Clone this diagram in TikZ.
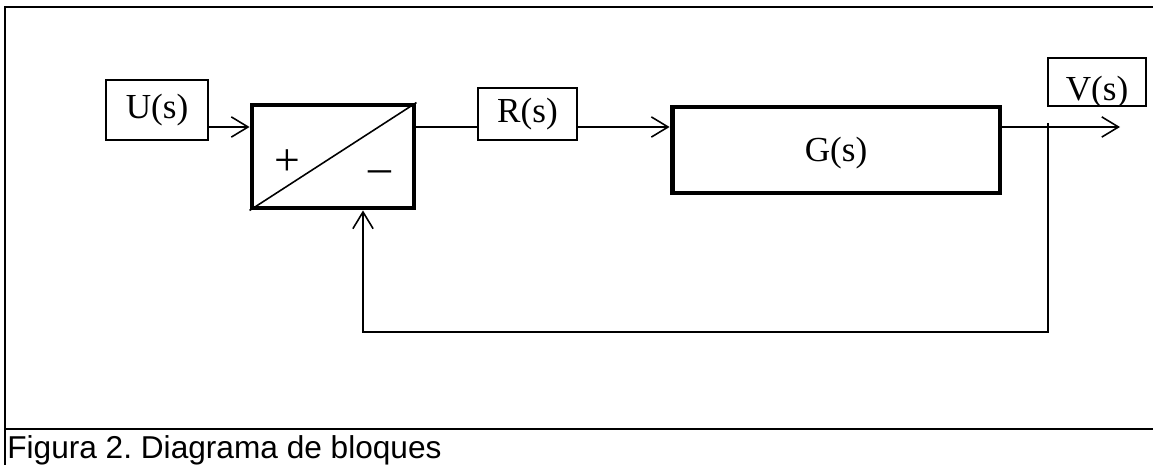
\documentclass[tikz,border=0pt]{standalone}
\usepackage{fontspec}
\setmainfont{Liberation Serif}
\newfontfamily\capfont{Liberation Sans}
\usetikzlibrary{arrows.meta,positioning,calc}
\frenchspacing

\begin{document}
\begin{tikzpicture}[x=0.02cm,y=-0.02cm,
      font=\fontsize{20}{22}\selectfont,
      blk/.style={draw,line width=0.9pt,inner sep=0pt,align=center},
      thk/.style={draw,line width=2.8pt,inner sep=0pt,align=center},
      sig/.style={-{Straight Barb[length=9.5pt,width=11.5pt,line width=0.9pt]},line width=0.9pt}]
    \useasboundingbox (0,0) rectangle (1153,465);

    % frame
    \draw[line width=1.5pt] (1160,7) -- (5,7) -- (5,470);
    \draw[line width=1.5pt] (5,429) -- (1160,429);

    % blocks
    \node[blk,minimum width=2.04cm,minimum height=1.2cm]  (U)   at (157,110)   {U(s)};
    \node[thk,minimum width=3.24cm,minimum height=2.06cm] (sum) at (333,156.5) {};
    \node[blk,minimum width=1.98cm,minimum height=1.04cm] (R)   at (527.5,114) {R(s)};
    \node[thk,minimum width=6.56cm,minimum height=1.72cm] (G)   at (836,150)   {};
    \node (Gtxt) at (836,153) {G(s)};
    \node[blk,minimum width=1.96cm,minimum height=0.96cm] (V)   at (1097,82)   {};
    \begin{scope}
      \clip (V.south west) rectangle (V.north east);
      \node[anchor=base] (Vtxt) at (1097,101) {V(s)};
    \end{scope}

    % comparator
    \draw[line width=0.9pt] (sum.south west) -- (sum.north east);
    \node[font=\fontsize{26}{28}\selectfont] (plus)  at (287,163) {+};
    \node[font=\fontsize{26}{28}\selectfont] (minus) at (380,177) {--};

    % signal path
    \coordinate (line) at (0,127);
    \coordinate (tap)  at (1048,123);
    \coordinate (out)  at (1120,127);
    \coordinate (fb)   at (363,332);
    \draw[sig] (U.east |- line) -- (sum.west |- line);
    \draw[line width=0.9pt] (sum.east |- line) -- (R.west |- line);
    \draw[sig] (R.east |- line) -- (G.west |- line);
    \draw[sig] (G.east |- line) -- (out);
    \draw[sig] (tap) -- (tap |- fb) -- (fb) -- (fb |- sum.south);

    % caption
    \node[anchor=base west,inner sep=0pt,font=\capfont\fontsize{18}{20}\selectfont]
      (cap) at (7,459) {Figura 2. Diagrama de bloques};
  \end{tikzpicture}
\end{document}
